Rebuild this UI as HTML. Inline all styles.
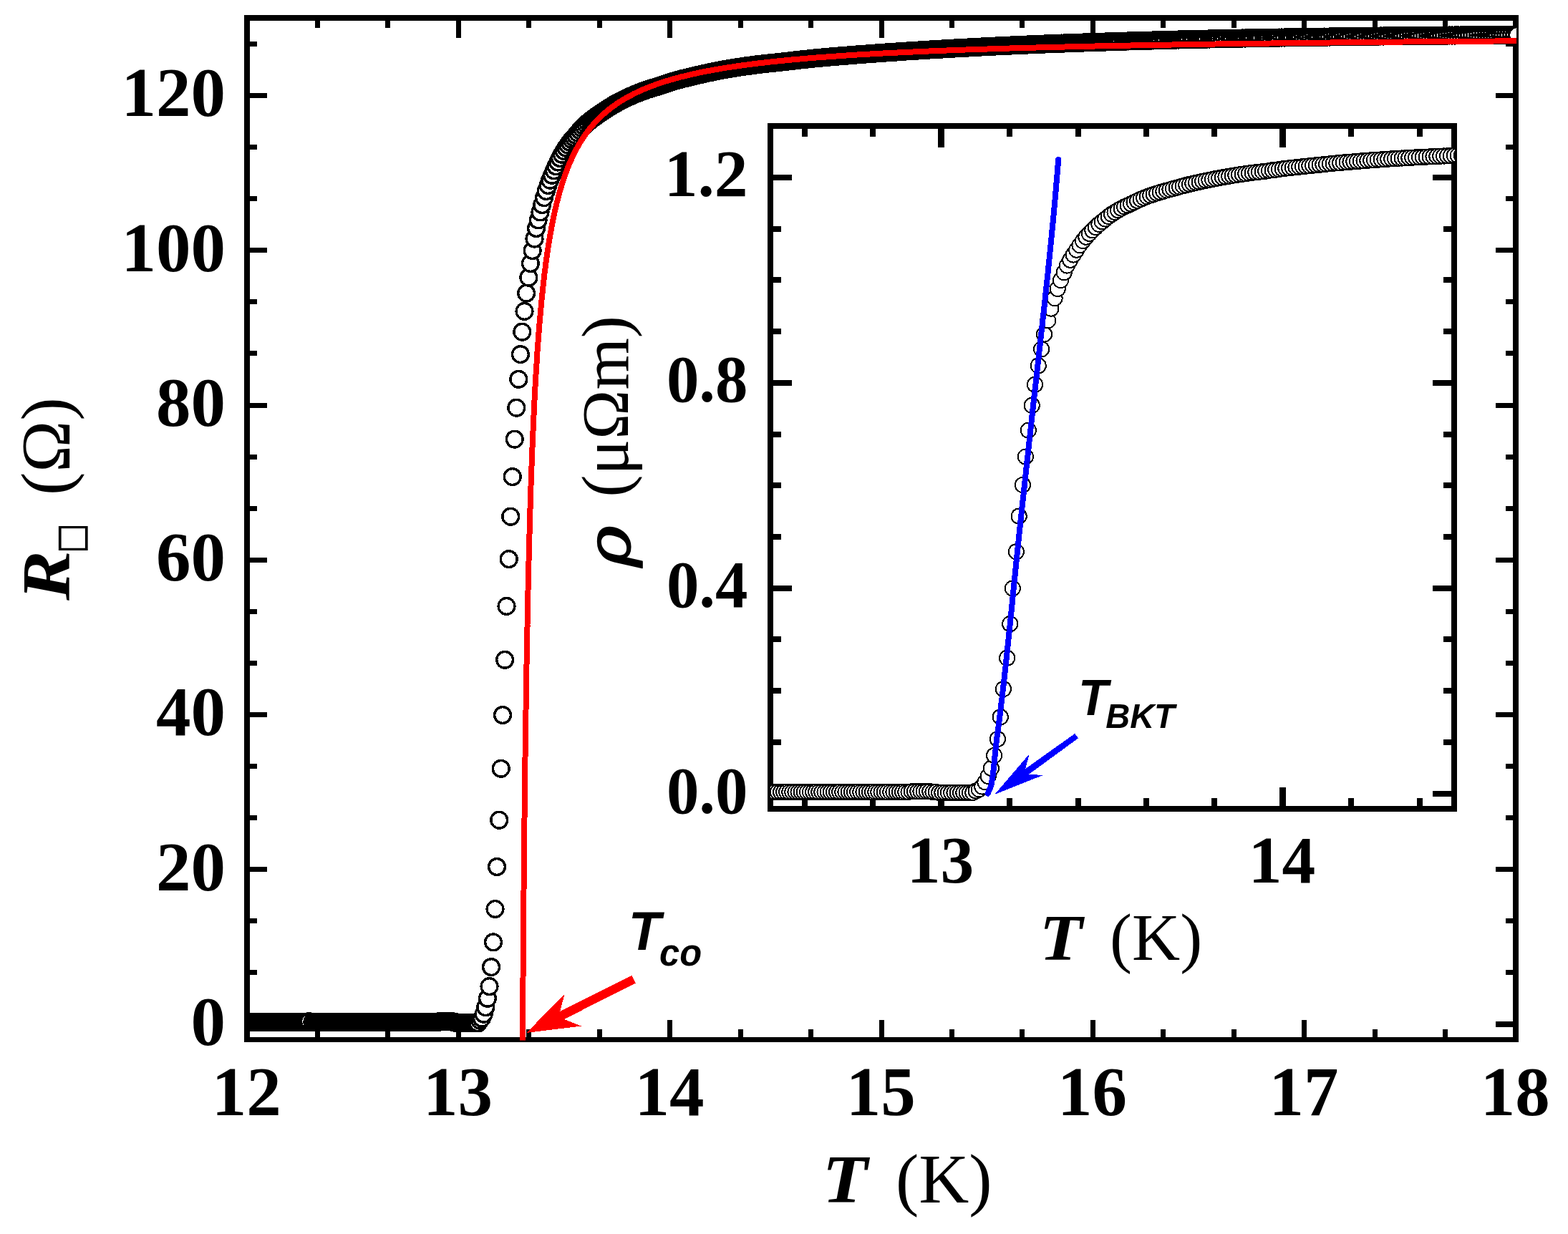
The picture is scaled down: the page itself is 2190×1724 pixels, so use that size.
<!DOCTYPE html>
<html lang="en">
<head>
<meta charset="utf-8">
<title>Sheet resistance versus temperature</title>
<style>
html,body{margin:0;padding:0;background:#fff;}
body{width:2190px;height:1724px;overflow:hidden;}
svg{display:block;}
text{font-family:"Liberation Serif","DejaVu Serif",serif;fill:#000;}
.tl text{font-weight:bold;font-size:97px;}
.tli text{font-weight:bold;font-size:93.5px;}
.ax{font-size:97px;}
.axi{font-size:93px;}
.bi{font-weight:bold;font-style:italic;}
.an{font-family:"Liberation Sans","DejaVu Sans",sans-serif;font-weight:bold;font-style:italic;}
.sqt{font-family:"Liberation Serif","DejaVu Sans",serif;}
.rho{font-family:"DejaVu Serif","Liberation Serif",serif;font-style:italic;}
</style>
</head>
<body>
<svg xmlns="http://www.w3.org/2000/svg" width="2190" height="1724" viewBox="0 0 2190 1724" shape-rendering="crispEdges">
<rect x="0" y="0" width="2190" height="1724" fill="#fff"/>
<g id="main-axes">
<path fill="#000" fill-rule="evenodd" d="M341 21H2121V1456H341Z M349 29V1449H2113V29Z"/>
<rect x="440" y="29" width="7" height="10" fill="#000"/>
<rect x="440" y="1438" width="7" height="11" fill="#000"/>
<rect x="538" y="29" width="7" height="10" fill="#000"/>
<rect x="538" y="1438" width="7" height="11" fill="#000"/>
<rect x="637" y="29" width="7" height="24" fill="#000"/>
<rect x="637" y="1425" width="7" height="24" fill="#000"/>
<rect x="735" y="29" width="7" height="10" fill="#000"/>
<rect x="735" y="1438" width="7" height="11" fill="#000"/>
<rect x="834" y="29" width="7" height="10" fill="#000"/>
<rect x="834" y="1438" width="7" height="11" fill="#000"/>
<rect x="932" y="29" width="7" height="24" fill="#000"/>
<rect x="932" y="1425" width="7" height="24" fill="#000"/>
<rect x="1031" y="29" width="7" height="10" fill="#000"/>
<rect x="1031" y="1438" width="7" height="11" fill="#000"/>
<rect x="1129" y="29" width="7" height="10" fill="#000"/>
<rect x="1129" y="1438" width="7" height="11" fill="#000"/>
<rect x="1228" y="29" width="7" height="24" fill="#000"/>
<rect x="1228" y="1425" width="7" height="24" fill="#000"/>
<rect x="1326" y="29" width="7" height="10" fill="#000"/>
<rect x="1326" y="1438" width="7" height="11" fill="#000"/>
<rect x="1424" y="29" width="7" height="10" fill="#000"/>
<rect x="1424" y="1438" width="7" height="11" fill="#000"/>
<rect x="1523" y="29" width="7" height="24" fill="#000"/>
<rect x="1523" y="1425" width="7" height="24" fill="#000"/>
<rect x="1621" y="29" width="7" height="10" fill="#000"/>
<rect x="1621" y="1438" width="7" height="11" fill="#000"/>
<rect x="1720" y="29" width="7" height="10" fill="#000"/>
<rect x="1720" y="1438" width="7" height="11" fill="#000"/>
<rect x="1818" y="29" width="7" height="24" fill="#000"/>
<rect x="1818" y="1425" width="7" height="24" fill="#000"/>
<rect x="1917" y="29" width="7" height="10" fill="#000"/>
<rect x="1917" y="1438" width="7" height="11" fill="#000"/>
<rect x="2015" y="29" width="7" height="10" fill="#000"/>
<rect x="2015" y="1438" width="7" height="11" fill="#000"/>
<rect x="349" y="1427" width="24" height="8" fill="#000"/>
<rect x="2089" y="1427" width="24" height="8" fill="#000"/>
<rect x="349" y="1355" width="10" height="7" fill="#000"/>
<rect x="2103" y="1355" width="10" height="7" fill="#000"/>
<rect x="349" y="1283" width="10" height="7" fill="#000"/>
<rect x="2103" y="1283" width="10" height="7" fill="#000"/>
<rect x="349" y="1211" width="24" height="7" fill="#000"/>
<rect x="2089" y="1211" width="24" height="7" fill="#000"/>
<rect x="349" y="1139" width="10" height="7" fill="#000"/>
<rect x="2103" y="1139" width="10" height="7" fill="#000"/>
<rect x="349" y="1067" width="10" height="7" fill="#000"/>
<rect x="2103" y="1067" width="10" height="7" fill="#000"/>
<rect x="349" y="995" width="24" height="7" fill="#000"/>
<rect x="2089" y="995" width="24" height="7" fill="#000"/>
<rect x="349" y="923" width="10" height="7" fill="#000"/>
<rect x="2103" y="923" width="10" height="7" fill="#000"/>
<rect x="349" y="851" width="10" height="7" fill="#000"/>
<rect x="2103" y="851" width="10" height="7" fill="#000"/>
<rect x="349" y="779" width="24" height="7" fill="#000"/>
<rect x="2089" y="779" width="24" height="7" fill="#000"/>
<rect x="349" y="707" width="10" height="7" fill="#000"/>
<rect x="2103" y="707" width="10" height="7" fill="#000"/>
<rect x="349" y="635" width="10" height="7" fill="#000"/>
<rect x="2103" y="635" width="10" height="7" fill="#000"/>
<rect x="349" y="563" width="24" height="7" fill="#000"/>
<rect x="2089" y="563" width="24" height="7" fill="#000"/>
<rect x="349" y="490" width="10" height="7" fill="#000"/>
<rect x="2103" y="490" width="10" height="7" fill="#000"/>
<rect x="349" y="418" width="10" height="7" fill="#000"/>
<rect x="2103" y="418" width="10" height="7" fill="#000"/>
<rect x="349" y="346" width="24" height="7" fill="#000"/>
<rect x="2089" y="346" width="24" height="7" fill="#000"/>
<rect x="349" y="274" width="10" height="7" fill="#000"/>
<rect x="2103" y="274" width="10" height="7" fill="#000"/>
<rect x="349" y="202" width="10" height="7" fill="#000"/>
<rect x="2103" y="202" width="10" height="7" fill="#000"/>
<rect x="349" y="130" width="24" height="7" fill="#000"/>
<rect x="2089" y="130" width="24" height="7" fill="#000"/>
<rect x="349" y="58" width="10" height="7" fill="#000"/>
<rect x="2103" y="58" width="10" height="7" fill="#000"/>
</g>
<clipPath id="cm"><rect x="345" y="25" width="1773" height="1428.5"/></clipPath>
<g id="main-data" clip-path="url(#cm)">
<g fill="#fff" stroke="#000" stroke-width="3.4">
<circle cx="326.4" cy="1428.0" r="11.4"/>
<circle cx="328.9" cy="1428.0" r="11.4"/>
<circle cx="331.4" cy="1428.0" r="11.4"/>
<circle cx="333.9" cy="1428.0" r="11.4"/>
<circle cx="336.4" cy="1428.0" r="11.4"/>
<circle cx="338.9" cy="1428.0" r="11.4"/>
<circle cx="341.5" cy="1428.0" r="11.4"/>
<circle cx="344.0" cy="1428.0" r="11.4"/>
<circle cx="346.5" cy="1428.0" r="11.4"/>
<circle cx="349.0" cy="1428.0" r="11.4"/>
<circle cx="351.5" cy="1428.0" r="11.4"/>
<circle cx="354.0" cy="1428.0" r="11.4"/>
<circle cx="356.5" cy="1428.0" r="11.4"/>
<circle cx="359.0" cy="1428.0" r="11.4"/>
<circle cx="361.5" cy="1428.0" r="11.4"/>
<circle cx="364.0" cy="1428.0" r="11.4"/>
<circle cx="366.6" cy="1428.0" r="11.4"/>
<circle cx="369.1" cy="1428.0" r="11.4"/>
<circle cx="371.6" cy="1428.0" r="11.4"/>
<circle cx="374.1" cy="1428.0" r="11.4"/>
<circle cx="376.6" cy="1428.0" r="11.4"/>
<circle cx="379.1" cy="1428.0" r="11.4"/>
<circle cx="381.6" cy="1428.0" r="11.4"/>
<circle cx="384.1" cy="1428.0" r="11.4"/>
<circle cx="386.6" cy="1428.0" r="11.4"/>
<circle cx="389.2" cy="1428.0" r="11.4"/>
<circle cx="391.7" cy="1428.0" r="11.4"/>
<circle cx="394.2" cy="1428.0" r="11.4"/>
<circle cx="396.7" cy="1428.0" r="11.4"/>
<circle cx="399.2" cy="1428.0" r="11.4"/>
<circle cx="401.7" cy="1428.0" r="11.4"/>
<circle cx="404.2" cy="1428.0" r="11.4"/>
<circle cx="406.7" cy="1428.0" r="11.4"/>
<circle cx="409.2" cy="1428.0" r="11.4"/>
<circle cx="411.7" cy="1428.0" r="11.4"/>
<circle cx="414.3" cy="1428.0" r="11.4"/>
<circle cx="416.8" cy="1428.0" r="11.4"/>
<circle cx="419.3" cy="1428.0" r="11.4"/>
<circle cx="421.8" cy="1428.0" r="11.4"/>
<circle cx="424.3" cy="1428.0" r="11.4"/>
<circle cx="426.8" cy="1428.0" r="11.4"/>
<circle cx="429.3" cy="1428.0" r="11.4"/>
<circle cx="431.8" cy="1427.1" r="11.4"/>
<circle cx="436.4" cy="1428.0" r="11.4"/>
<circle cx="438.9" cy="1428.0" r="11.4"/>
<circle cx="441.4" cy="1428.0" r="11.4"/>
<circle cx="443.9" cy="1428.0" r="11.4"/>
<circle cx="446.4" cy="1428.0" r="11.4"/>
<circle cx="448.9" cy="1428.0" r="11.4"/>
<circle cx="451.4" cy="1428.0" r="11.4"/>
<circle cx="453.9" cy="1428.0" r="11.4"/>
<circle cx="456.4" cy="1428.0" r="11.4"/>
<circle cx="458.9" cy="1428.0" r="11.4"/>
<circle cx="461.4" cy="1428.0" r="11.4"/>
<circle cx="464.0" cy="1428.0" r="11.4"/>
<circle cx="466.5" cy="1428.0" r="11.4"/>
<circle cx="469.0" cy="1428.0" r="11.4"/>
<circle cx="471.5" cy="1428.0" r="11.4"/>
<circle cx="474.0" cy="1428.0" r="11.4"/>
<circle cx="476.5" cy="1428.0" r="11.4"/>
<circle cx="479.0" cy="1428.0" r="11.4"/>
<circle cx="481.5" cy="1428.0" r="11.4"/>
<circle cx="484.0" cy="1428.0" r="11.4"/>
<circle cx="486.5" cy="1428.0" r="11.4"/>
<circle cx="489.1" cy="1428.0" r="11.4"/>
<circle cx="491.6" cy="1428.0" r="11.4"/>
<circle cx="494.1" cy="1428.0" r="11.4"/>
<circle cx="496.6" cy="1428.0" r="11.4"/>
<circle cx="499.1" cy="1428.0" r="11.4"/>
<circle cx="501.6" cy="1428.0" r="11.4"/>
<circle cx="504.2" cy="1428.0" r="11.4"/>
<circle cx="506.7" cy="1428.0" r="11.4"/>
<circle cx="509.2" cy="1428.0" r="11.4"/>
<circle cx="511.7" cy="1428.0" r="11.4"/>
<circle cx="514.3" cy="1428.0" r="11.4"/>
<circle cx="516.8" cy="1428.0" r="11.4"/>
<circle cx="519.3" cy="1428.0" r="11.4"/>
<circle cx="521.9" cy="1428.0" r="11.4"/>
<circle cx="524.4" cy="1428.0" r="11.4"/>
<circle cx="526.9" cy="1428.0" r="11.4"/>
<circle cx="529.5" cy="1428.0" r="11.4"/>
<circle cx="532.0" cy="1428.0" r="11.4"/>
<circle cx="534.6" cy="1428.0" r="11.4"/>
<circle cx="537.1" cy="1428.0" r="11.4"/>
<circle cx="539.7" cy="1428.0" r="11.4"/>
<circle cx="542.2" cy="1428.0" r="11.4"/>
<circle cx="544.8" cy="1428.0" r="11.4"/>
<circle cx="547.4" cy="1428.0" r="11.4"/>
<circle cx="549.9" cy="1428.0" r="11.4"/>
<circle cx="552.5" cy="1428.0" r="11.4"/>
<circle cx="555.0" cy="1428.0" r="11.4"/>
<circle cx="557.6" cy="1428.0" r="11.4"/>
<circle cx="560.2" cy="1428.0" r="11.4"/>
<circle cx="562.8" cy="1428.0" r="11.4"/>
<circle cx="565.3" cy="1428.0" r="11.4"/>
<circle cx="567.9" cy="1428.0" r="11.4"/>
<circle cx="570.5" cy="1428.0" r="11.4"/>
<circle cx="573.1" cy="1428.0" r="11.4"/>
<circle cx="575.7" cy="1428.0" r="11.4"/>
<circle cx="578.2" cy="1428.0" r="11.4"/>
<circle cx="580.8" cy="1428.0" r="11.4"/>
<circle cx="583.4" cy="1428.0" r="11.4"/>
<circle cx="586.0" cy="1428.0" r="11.4"/>
<circle cx="588.6" cy="1428.0" r="11.4"/>
<circle cx="591.2" cy="1428.0" r="11.4"/>
<circle cx="593.8" cy="1428.0" r="11.4"/>
<circle cx="596.4" cy="1428.0" r="11.4"/>
<circle cx="599.0" cy="1428.0" r="11.4"/>
<circle cx="601.6" cy="1428.0" r="11.4"/>
<circle cx="604.2" cy="1428.0" r="11.4"/>
<circle cx="606.9" cy="1428.0" r="11.4"/>
<circle cx="609.5" cy="1428.0" r="11.4"/>
<circle cx="612.1" cy="1428.0" r="11.4"/>
<circle cx="614.7" cy="1426.8" r="11.4"/>
<circle cx="617.3" cy="1426.8" r="11.4"/>
<circle cx="620.0" cy="1426.8" r="11.4"/>
<circle cx="622.6" cy="1426.8" r="11.4"/>
<circle cx="625.2" cy="1426.8" r="11.4"/>
<circle cx="627.9" cy="1426.8" r="11.4"/>
<circle cx="630.5" cy="1426.8" r="11.4"/>
<circle cx="633.1" cy="1428.0" r="11.4"/>
<circle cx="635.8" cy="1428.0" r="11.4"/>
<circle cx="638.4" cy="1429.4" r="11.4"/>
<circle cx="641.0" cy="1429.4" r="11.4"/>
<circle cx="643.7" cy="1429.4" r="11.4"/>
<circle cx="646.3" cy="1429.4" r="11.4"/>
<circle cx="649.0" cy="1429.4" r="11.4"/>
<circle cx="651.6" cy="1429.4" r="11.4"/>
<circle cx="654.3" cy="1429.4" r="11.4"/>
<circle cx="657.0" cy="1429.4" r="11.4"/>
<circle cx="659.6" cy="1429.4" r="11.4"/>
<circle cx="662.3" cy="1429.4" r="11.4"/>
<circle cx="664.9" cy="1429.4" r="11.4"/>
<circle cx="667.6" cy="1429.4" r="11.4"/>
<circle cx="670.3" cy="1425.7" r="11.4"/>
<circle cx="672.9" cy="1422.6" r="11.4"/>
<circle cx="675.6" cy="1416.7" r="11.4"/>
<circle cx="678.2" cy="1407.2" r="11.4"/>
<circle cx="680.9" cy="1394.8" r="11.4"/>
<circle cx="683.5" cy="1378.1" r="11.4"/>
<circle cx="686.1" cy="1351.1" r="11.4"/>
<circle cx="689.0" cy="1316.4" r="11.4"/>
<circle cx="691.5" cy="1270.0" r="11.4"/>
<circle cx="694.0" cy="1211.0" r="11.4"/>
<circle cx="697.2" cy="1145.7" r="11.4"/>
<circle cx="699.7" cy="1073.8" r="11.4"/>
<circle cx="702.0" cy="999.0" r="11.4"/>
<circle cx="705.1" cy="921.8" r="11.4"/>
<circle cx="707.5" cy="846.9" r="11.4"/>
<circle cx="710.7" cy="781.1" r="11.4"/>
<circle cx="713.2" cy="721.7" r="11.4"/>
<circle cx="715.7" cy="666.1" r="11.4"/>
<circle cx="718.7" cy="613.6" r="11.4"/>
<circle cx="721.3" cy="569.7" r="11.4"/>
<circle cx="724.3" cy="529.8" r="11.4"/>
<circle cx="726.9" cy="495.1" r="11.4"/>
<circle cx="729.3" cy="463.7" r="11.4"/>
<circle cx="732.5" cy="434.9" r="11.4"/>
<circle cx="735.1" cy="409.6" r="11.4"/>
<circle cx="738.4" cy="387.7" r="11.4"/>
<circle cx="740.9" cy="368.0" r="11.4"/>
<circle cx="743.6" cy="350.1" r="11.4"/>
<circle cx="746.5" cy="333.6" r="11.4"/>
<circle cx="749.0" cy="319.0" r="11.4"/>
<circle cx="751.7" cy="307.4" r="11.4"/>
<circle cx="754.5" cy="296.4" r="11.4"/>
<circle cx="757.2" cy="286.1" r="11.4"/>
<circle cx="760.0" cy="276.2" r="11.4"/>
<circle cx="762.7" cy="267.0" r="11.4"/>
<circle cx="765.5" cy="259.0" r="11.4"/>
<circle cx="768.2" cy="251.7" r="11.4"/>
<circle cx="771.0" cy="244.8" r="11.4"/>
<circle cx="773.8" cy="238.3" r="11.4"/>
<circle cx="776.5" cy="232.2" r="11.4"/>
<circle cx="779.3" cy="226.5" r="11.4"/>
<circle cx="782.1" cy="221.0" r="11.4"/>
<circle cx="784.8" cy="215.8" r="11.4"/>
<circle cx="787.6" cy="210.9" r="11.4"/>
<circle cx="790.4" cy="206.6" r="11.4"/>
<circle cx="793.1" cy="202.6" r="11.4"/>
<circle cx="795.9" cy="198.7" r="11.4"/>
<circle cx="798.7" cy="195.2" r="11.4"/>
<circle cx="801.5" cy="192.2" r="11.4"/>
<circle cx="804.3" cy="189.1" r="11.4"/>
<circle cx="807.1" cy="185.8" r="11.4"/>
<circle cx="809.9" cy="182.4" r="11.4"/>
<circle cx="812.7" cy="179.2" r="11.4"/>
<circle cx="815.5" cy="176.3" r="11.4"/>
<circle cx="818.3" cy="173.7" r="11.4"/>
<circle cx="821.1" cy="171.3" r="11.4"/>
<circle cx="823.9" cy="169.0" r="11.4"/>
<circle cx="826.7" cy="166.8" r="11.4"/>
<circle cx="829.5" cy="164.7" r="11.4"/>
<circle cx="832.3" cy="162.6" r="11.4"/>
<circle cx="835.1" cy="160.7" r="11.4"/>
<circle cx="837.9" cy="158.7" r="11.4"/>
<circle cx="840.7" cy="156.8" r="11.4"/>
<circle cx="843.6" cy="155.0" r="11.4"/>
<circle cx="846.4" cy="153.1" r="11.4"/>
<circle cx="849.2" cy="151.3" r="11.4"/>
<circle cx="852.0" cy="149.5" r="11.4"/>
<circle cx="854.9" cy="147.8" r="11.4"/>
<circle cx="857.7" cy="146.0" r="11.4"/>
<circle cx="860.6" cy="144.4" r="11.4"/>
<circle cx="863.4" cy="142.9" r="11.4"/>
<circle cx="866.2" cy="141.4" r="11.4"/>
<circle cx="869.1" cy="139.9" r="11.4"/>
<circle cx="871.9" cy="138.5" r="11.4"/>
<circle cx="874.8" cy="137.2" r="11.4"/>
<circle cx="877.6" cy="135.8" r="11.4"/>
<circle cx="880.5" cy="134.5" r="11.4"/>
<circle cx="883.3" cy="133.3" r="11.4"/>
<circle cx="886.2" cy="132.0" r="11.4"/>
<circle cx="889.1" cy="130.8" r="11.4"/>
<circle cx="891.9" cy="129.7" r="11.4"/>
<circle cx="894.8" cy="128.6" r="11.4"/>
<circle cx="897.7" cy="127.5" r="11.4"/>
<circle cx="900.5" cy="126.4" r="11.4"/>
<circle cx="903.4" cy="125.4" r="11.4"/>
<circle cx="906.3" cy="124.5" r="11.4"/>
<circle cx="909.2" cy="123.6" r="11.4"/>
<circle cx="912.1" cy="122.7" r="11.4"/>
<circle cx="915.0" cy="121.9" r="11.4"/>
<circle cx="917.8" cy="121.0" r="11.4"/>
<circle cx="920.7" cy="120.1" r="11.4"/>
<circle cx="923.6" cy="119.1" r="11.4"/>
<circle cx="926.5" cy="118.1" r="11.4"/>
<circle cx="929.4" cy="117.2" r="11.4"/>
<circle cx="932.3" cy="116.2" r="11.4"/>
<circle cx="935.2" cy="115.2" r="11.4"/>
<circle cx="938.1" cy="114.3" r="11.4"/>
<circle cx="941.1" cy="113.4" r="11.4"/>
<circle cx="944.0" cy="112.6" r="11.4"/>
<circle cx="946.9" cy="111.8" r="11.4"/>
<circle cx="949.8" cy="111.0" r="11.4"/>
<circle cx="952.7" cy="110.2" r="11.4"/>
<circle cx="955.6" cy="109.5" r="11.4"/>
<circle cx="958.6" cy="108.8" r="11.4"/>
<circle cx="961.5" cy="108.1" r="11.4"/>
<circle cx="964.4" cy="107.4" r="11.4"/>
<circle cx="967.4" cy="106.7" r="11.4"/>
<circle cx="970.3" cy="106.0" r="11.4"/>
<circle cx="973.2" cy="105.3" r="11.4"/>
<circle cx="976.2" cy="104.6" r="11.4"/>
<circle cx="979.1" cy="103.9" r="11.4"/>
<circle cx="982.1" cy="103.3" r="11.4"/>
<circle cx="985.0" cy="102.6" r="11.4"/>
<circle cx="988.0" cy="101.9" r="11.4"/>
<circle cx="990.9" cy="101.3" r="11.4"/>
<circle cx="993.9" cy="100.7" r="11.4"/>
<circle cx="996.8" cy="100.0" r="11.4"/>
<circle cx="999.8" cy="99.4" r="11.4"/>
<circle cx="1002.8" cy="98.8" r="11.4"/>
<circle cx="1005.7" cy="98.3" r="11.4"/>
<circle cx="1008.7" cy="97.7" r="11.4"/>
<circle cx="1011.7" cy="97.2" r="11.4"/>
<circle cx="1014.7" cy="96.6" r="11.4"/>
<circle cx="1017.6" cy="96.1" r="11.4"/>
<circle cx="1020.6" cy="95.6" r="11.4"/>
<circle cx="1023.6" cy="95.1" r="11.4"/>
<circle cx="1026.6" cy="94.6" r="11.4"/>
<circle cx="1029.6" cy="94.2" r="11.4"/>
<circle cx="1032.6" cy="93.7" r="11.4"/>
<circle cx="1035.6" cy="93.3" r="11.4"/>
<circle cx="1038.6" cy="92.8" r="11.4"/>
<circle cx="1041.6" cy="92.4" r="11.4"/>
<circle cx="1044.6" cy="92.0" r="11.4"/>
<circle cx="1047.6" cy="91.6" r="11.4"/>
<circle cx="1050.6" cy="91.2" r="11.4"/>
<circle cx="1053.6" cy="90.8" r="11.4"/>
<circle cx="1056.6" cy="90.4" r="11.4"/>
<circle cx="1059.6" cy="90.0" r="11.4"/>
<circle cx="1062.7" cy="89.6" r="11.4"/>
<circle cx="1065.7" cy="89.3" r="11.4"/>
<circle cx="1068.7" cy="89.0" r="11.4"/>
<circle cx="1071.7" cy="88.6" r="11.4"/>
<circle cx="1074.8" cy="88.3" r="11.4"/>
<circle cx="1077.8" cy="88.1" r="11.4"/>
<circle cx="1080.8" cy="87.8" r="11.4"/>
<circle cx="1083.9" cy="87.4" r="11.4"/>
<circle cx="1086.9" cy="87.1" r="11.4"/>
<circle cx="1090.0" cy="86.8" r="11.4"/>
<circle cx="1093.0" cy="86.4" r="11.4"/>
<circle cx="1096.0" cy="86.1" r="11.4"/>
<circle cx="1099.1" cy="85.7" r="11.4"/>
<circle cx="1102.2" cy="85.4" r="11.4"/>
<circle cx="1105.2" cy="85.0" r="11.4"/>
<circle cx="1108.3" cy="84.7" r="11.4"/>
<circle cx="1111.3" cy="84.3" r="11.4"/>
<circle cx="1114.4" cy="83.9" r="11.4"/>
<circle cx="1117.5" cy="83.6" r="11.4"/>
<circle cx="1120.5" cy="83.2" r="11.4"/>
<circle cx="1123.6" cy="82.9" r="11.4"/>
<circle cx="1126.7" cy="82.6" r="11.4"/>
<circle cx="1129.8" cy="82.2" r="11.4"/>
<circle cx="1132.9" cy="81.9" r="11.4"/>
<circle cx="1135.9" cy="81.6" r="11.4"/>
<circle cx="1139.0" cy="81.3" r="11.4"/>
<circle cx="1142.1" cy="81.0" r="11.4"/>
<circle cx="1145.2" cy="80.8" r="11.4"/>
<circle cx="1148.3" cy="80.5" r="11.4"/>
<circle cx="1151.4" cy="80.2" r="11.4"/>
<circle cx="1154.5" cy="79.9" r="11.4"/>
<circle cx="1157.6" cy="79.7" r="11.4"/>
<circle cx="1160.7" cy="79.4" r="11.4"/>
<circle cx="1163.8" cy="79.1" r="11.4"/>
<circle cx="1166.9" cy="78.9" r="11.4"/>
<circle cx="1170.1" cy="78.6" r="11.4"/>
<circle cx="1173.2" cy="78.3" r="11.4"/>
<circle cx="1176.3" cy="78.1" r="11.4"/>
<circle cx="1179.4" cy="77.8" r="11.4"/>
<circle cx="1182.6" cy="77.6" r="11.4"/>
<circle cx="1185.7" cy="77.3" r="11.4"/>
<circle cx="1188.8" cy="77.1" r="11.4"/>
<circle cx="1192.0" cy="76.8" r="11.4"/>
<circle cx="1195.1" cy="76.6" r="11.4"/>
<circle cx="1198.2" cy="76.3" r="11.4"/>
<circle cx="1201.4" cy="76.1" r="11.4"/>
<circle cx="1204.5" cy="75.9" r="11.4"/>
<circle cx="1207.7" cy="75.6" r="11.4"/>
<circle cx="1210.8" cy="75.4" r="11.4"/>
<circle cx="1214.0" cy="75.1" r="11.4"/>
<circle cx="1217.1" cy="74.9" r="11.4"/>
<circle cx="1220.3" cy="74.7" r="11.4"/>
<circle cx="1223.5" cy="74.5" r="11.4"/>
<circle cx="1226.6" cy="74.2" r="11.4"/>
<circle cx="1229.8" cy="74.0" r="11.4"/>
<circle cx="1233.0" cy="73.8" r="11.4"/>
<circle cx="1236.2" cy="73.6" r="11.4"/>
<circle cx="1239.3" cy="73.3" r="11.4"/>
<circle cx="1242.5" cy="73.1" r="11.4"/>
<circle cx="1245.7" cy="72.9" r="11.4"/>
<circle cx="1248.9" cy="72.7" r="11.4"/>
<circle cx="1252.1" cy="72.5" r="11.4"/>
<circle cx="1255.3" cy="72.3" r="11.4"/>
<circle cx="1258.5" cy="72.1" r="11.4"/>
<circle cx="1261.7" cy="71.9" r="11.4"/>
<circle cx="1264.9" cy="71.6" r="11.4"/>
<circle cx="1268.1" cy="71.4" r="11.4"/>
<circle cx="1271.3" cy="71.2" r="11.4"/>
<circle cx="1274.5" cy="71.0" r="11.4"/>
<circle cx="1277.7" cy="70.8" r="11.4"/>
<circle cx="1280.9" cy="70.6" r="11.4"/>
<circle cx="1284.1" cy="70.4" r="11.4"/>
<circle cx="1287.4" cy="70.2" r="11.4"/>
<circle cx="1290.6" cy="70.0" r="11.4"/>
<circle cx="1293.8" cy="69.8" r="11.4"/>
<circle cx="1297.0" cy="69.6" r="11.4"/>
<circle cx="1300.3" cy="69.4" r="11.4"/>
<circle cx="1303.5" cy="69.2" r="11.4"/>
<circle cx="1306.7" cy="69.0" r="11.4"/>
<circle cx="1310.0" cy="68.8" r="11.4"/>
<circle cx="1313.2" cy="68.7" r="11.4"/>
<circle cx="1316.5" cy="68.5" r="11.4"/>
<circle cx="1319.7" cy="68.3" r="11.4"/>
<circle cx="1323.0" cy="68.1" r="11.4"/>
<circle cx="1326.2" cy="67.9" r="11.4"/>
<circle cx="1329.5" cy="67.7" r="11.4"/>
<circle cx="1332.8" cy="67.5" r="11.4"/>
<circle cx="1336.0" cy="67.4" r="11.4"/>
<circle cx="1339.3" cy="67.2" r="11.4"/>
<circle cx="1342.6" cy="67.0" r="11.4"/>
<circle cx="1345.8" cy="66.8" r="11.4"/>
<circle cx="1349.1" cy="66.6" r="11.4"/>
<circle cx="1352.4" cy="66.5" r="11.4"/>
<circle cx="1355.7" cy="66.3" r="11.4"/>
<circle cx="1359.0" cy="66.1" r="11.4"/>
<circle cx="1362.3" cy="65.9" r="11.4"/>
<circle cx="1365.5" cy="65.8" r="11.4"/>
<circle cx="1368.8" cy="65.6" r="11.4"/>
<circle cx="1372.1" cy="65.4" r="11.4"/>
<circle cx="1375.4" cy="65.3" r="11.4"/>
<circle cx="1378.7" cy="65.1" r="11.4"/>
<circle cx="1382.0" cy="64.9" r="11.4"/>
<circle cx="1385.4" cy="64.8" r="11.4"/>
<circle cx="1388.7" cy="64.6" r="11.4"/>
<circle cx="1392.0" cy="64.4" r="11.4"/>
<circle cx="1395.3" cy="64.3" r="11.4"/>
<circle cx="1398.6" cy="64.1" r="11.4"/>
<circle cx="1401.9" cy="64.0" r="11.4"/>
<circle cx="1405.3" cy="63.8" r="11.4"/>
<circle cx="1408.6" cy="63.7" r="11.4"/>
<circle cx="1411.9" cy="63.5" r="11.4"/>
<circle cx="1415.3" cy="63.4" r="11.4"/>
<circle cx="1418.6" cy="63.2" r="11.4"/>
<circle cx="1422.0" cy="63.1" r="11.4"/>
<circle cx="1425.3" cy="62.9" r="11.4"/>
<circle cx="1428.7" cy="62.8" r="11.4"/>
<circle cx="1432.0" cy="62.6" r="11.4"/>
<circle cx="1435.4" cy="62.5" r="11.4"/>
<circle cx="1438.7" cy="62.4" r="11.4"/>
<circle cx="1442.1" cy="62.2" r="11.4"/>
<circle cx="1445.4" cy="62.1" r="11.4"/>
<circle cx="1448.8" cy="61.9" r="11.4"/>
<circle cx="1452.2" cy="61.8" r="11.4"/>
<circle cx="1455.6" cy="61.7" r="11.4"/>
<circle cx="1458.9" cy="61.5" r="11.4"/>
<circle cx="1462.3" cy="61.4" r="11.4"/>
<circle cx="1465.7" cy="61.3" r="11.4"/>
<circle cx="1469.1" cy="61.1" r="11.4"/>
<circle cx="1472.5" cy="61.0" r="11.4"/>
<circle cx="1475.9" cy="60.9" r="11.4"/>
<circle cx="1479.2" cy="60.7" r="11.4"/>
<circle cx="1482.6" cy="60.6" r="11.4"/>
<circle cx="1486.0" cy="60.5" r="11.4"/>
<circle cx="1489.4" cy="60.4" r="11.4"/>
<circle cx="1492.9" cy="60.2" r="11.4"/>
<circle cx="1496.3" cy="60.1" r="11.4"/>
<circle cx="1499.7" cy="60.0" r="11.4"/>
<circle cx="1503.1" cy="59.9" r="11.4"/>
<circle cx="1506.5" cy="59.7" r="11.4"/>
<circle cx="1509.9" cy="59.6" r="11.4"/>
<circle cx="1513.4" cy="59.5" r="11.4"/>
<circle cx="1516.8" cy="59.4" r="11.4"/>
<circle cx="1520.2" cy="59.3" r="11.4"/>
<circle cx="1523.6" cy="59.2" r="11.4"/>
<circle cx="1527.1" cy="59.0" r="11.4"/>
<circle cx="1530.5" cy="58.9" r="11.4"/>
<circle cx="1534.0" cy="58.8" r="11.4"/>
<circle cx="1537.4" cy="58.7" r="11.4"/>
<circle cx="1540.9" cy="58.6" r="11.4"/>
<circle cx="1544.3" cy="58.5" r="11.4"/>
<circle cx="1547.8" cy="58.4" r="11.4"/>
<circle cx="1551.2" cy="58.3" r="11.4"/>
<circle cx="1554.7" cy="58.1" r="11.4"/>
<circle cx="1558.2" cy="58.0" r="11.4"/>
<circle cx="1561.6" cy="57.9" r="11.4"/>
<circle cx="1565.1" cy="57.8" r="11.4"/>
<circle cx="1568.6" cy="57.7" r="11.4"/>
<circle cx="1572.0" cy="57.6" r="11.4"/>
<circle cx="1575.5" cy="57.5" r="11.4"/>
<circle cx="1579.0" cy="57.4" r="11.4"/>
<circle cx="1582.5" cy="57.3" r="11.4"/>
<circle cx="1586.0" cy="57.2" r="11.4"/>
<circle cx="1589.5" cy="57.1" r="11.4"/>
<circle cx="1593.0" cy="57.0" r="11.4"/>
<circle cx="1596.5" cy="56.9" r="11.4"/>
<circle cx="1600.0" cy="56.8" r="11.4"/>
<circle cx="1603.5" cy="56.7" r="11.4"/>
<circle cx="1607.0" cy="56.6" r="11.4"/>
<circle cx="1610.5" cy="56.5" r="11.4"/>
<circle cx="1614.0" cy="56.4" r="11.4"/>
<circle cx="1617.5" cy="56.3" r="11.4"/>
<circle cx="1621.1" cy="56.2" r="11.4"/>
<circle cx="1624.6" cy="56.1" r="11.4"/>
<circle cx="1628.1" cy="56.0" r="11.4"/>
<circle cx="1631.6" cy="55.9" r="11.4"/>
<circle cx="1635.2" cy="55.8" r="11.4"/>
<circle cx="1638.7" cy="55.7" r="11.4"/>
<circle cx="1642.3" cy="55.6" r="11.4"/>
<circle cx="1645.8" cy="55.5" r="11.4"/>
<circle cx="1649.4" cy="55.4" r="11.4"/>
<circle cx="1652.9" cy="55.4" r="11.4"/>
<circle cx="1656.5" cy="55.3" r="11.4"/>
<circle cx="1660.0" cy="55.2" r="11.4"/>
<circle cx="1663.6" cy="55.1" r="11.4"/>
<circle cx="1667.1" cy="55.0" r="11.4"/>
<circle cx="1670.7" cy="54.9" r="11.4"/>
<circle cx="1674.3" cy="54.8" r="11.4"/>
<circle cx="1677.8" cy="54.8" r="11.4"/>
<circle cx="1681.4" cy="54.7" r="11.4"/>
<circle cx="1685.0" cy="54.6" r="11.4"/>
<circle cx="1688.6" cy="54.5" r="11.4"/>
<circle cx="1692.2" cy="54.4" r="11.4"/>
<circle cx="1695.8" cy="54.4" r="11.4"/>
<circle cx="1699.3" cy="54.3" r="11.4"/>
<circle cx="1702.9" cy="54.2" r="11.4"/>
<circle cx="1706.5" cy="54.1" r="11.4"/>
<circle cx="1710.1" cy="54.0" r="11.4"/>
<circle cx="1713.7" cy="54.0" r="11.4"/>
<circle cx="1717.4" cy="53.9" r="11.4"/>
<circle cx="1721.0" cy="53.8" r="11.4"/>
<circle cx="1724.6" cy="53.8" r="11.4"/>
<circle cx="1728.2" cy="53.7" r="11.4"/>
<circle cx="1731.8" cy="53.6" r="11.4"/>
<circle cx="1735.4" cy="53.5" r="11.4"/>
<circle cx="1739.1" cy="53.5" r="11.4"/>
<circle cx="1742.7" cy="53.4" r="11.4"/>
<circle cx="1746.3" cy="53.3" r="11.4"/>
<circle cx="1750.0" cy="53.3" r="11.4"/>
<circle cx="1753.6" cy="53.2" r="11.4"/>
<circle cx="1757.3" cy="53.1" r="11.4"/>
<circle cx="1760.9" cy="53.1" r="11.4"/>
<circle cx="1764.6" cy="53.0" r="11.4"/>
<circle cx="1768.2" cy="52.9" r="11.4"/>
<circle cx="1771.9" cy="52.9" r="11.4"/>
<circle cx="1775.5" cy="52.8" r="11.4"/>
<circle cx="1779.2" cy="52.7" r="11.4"/>
<circle cx="1782.9" cy="52.7" r="11.4"/>
<circle cx="1786.5" cy="52.6" r="11.4"/>
<circle cx="1790.2" cy="52.5" r="11.4"/>
<circle cx="1793.9" cy="52.5" r="11.4"/>
<circle cx="1797.6" cy="52.4" r="11.4"/>
<circle cx="1801.2" cy="52.4" r="11.4"/>
<circle cx="1804.9" cy="52.3" r="11.4"/>
<circle cx="1808.6" cy="52.2" r="11.4"/>
<circle cx="1812.3" cy="52.2" r="11.4"/>
<circle cx="1816.0" cy="52.1" r="11.4"/>
<circle cx="1819.7" cy="52.1" r="11.4"/>
<circle cx="1823.4" cy="52.0" r="11.4"/>
<circle cx="1827.1" cy="51.9" r="11.4"/>
<circle cx="1830.8" cy="51.9" r="11.4"/>
<circle cx="1834.5" cy="51.8" r="11.4"/>
<circle cx="1838.3" cy="51.8" r="11.4"/>
<circle cx="1842.0" cy="51.7" r="11.4"/>
<circle cx="1845.7" cy="51.7" r="11.4"/>
<circle cx="1849.4" cy="51.6" r="11.4"/>
<circle cx="1853.2" cy="51.6" r="11.4"/>
<circle cx="1856.9" cy="51.5" r="11.4"/>
<circle cx="1860.6" cy="51.4" r="11.4"/>
<circle cx="1864.4" cy="51.4" r="11.4"/>
<circle cx="1868.1" cy="51.3" r="11.4"/>
<circle cx="1871.9" cy="51.3" r="11.4"/>
<circle cx="1875.6" cy="51.2" r="11.4"/>
<circle cx="1879.4" cy="51.2" r="11.4"/>
<circle cx="1883.1" cy="51.1" r="11.4"/>
<circle cx="1886.9" cy="51.1" r="11.4"/>
<circle cx="1890.7" cy="51.0" r="11.4"/>
<circle cx="1894.4" cy="51.0" r="11.4"/>
<circle cx="1898.2" cy="50.9" r="11.4"/>
<circle cx="1902.0" cy="50.9" r="11.4"/>
<circle cx="1905.7" cy="50.8" r="11.4"/>
<circle cx="1909.5" cy="50.8" r="11.4"/>
<circle cx="1913.3" cy="50.7" r="11.4"/>
<circle cx="1917.1" cy="50.7" r="11.4"/>
<circle cx="1920.9" cy="50.6" r="11.4"/>
<circle cx="1924.7" cy="50.6" r="11.4"/>
<circle cx="1928.5" cy="50.5" r="11.4"/>
<circle cx="1932.3" cy="50.5" r="11.4"/>
<circle cx="1936.1" cy="50.4" r="11.4"/>
<circle cx="1939.9" cy="50.4" r="11.4"/>
<circle cx="1943.7" cy="50.3" r="11.4"/>
<circle cx="1947.5" cy="50.3" r="11.4"/>
<circle cx="1951.3" cy="50.3" r="11.4"/>
<circle cx="1955.2" cy="50.2" r="11.4"/>
<circle cx="1959.0" cy="50.2" r="11.4"/>
<circle cx="1962.8" cy="50.1" r="11.4"/>
<circle cx="1966.6" cy="50.1" r="11.4"/>
<circle cx="1970.5" cy="50.0" r="11.4"/>
<circle cx="1974.3" cy="50.0" r="11.4"/>
<circle cx="1978.2" cy="50.0" r="11.4"/>
<circle cx="1982.0" cy="49.9" r="11.4"/>
<circle cx="1985.9" cy="49.9" r="11.4"/>
<circle cx="1989.7" cy="49.8" r="11.4"/>
<circle cx="1993.6" cy="49.8" r="11.4"/>
<circle cx="1997.4" cy="49.8" r="11.4"/>
<circle cx="2001.3" cy="49.7" r="11.4"/>
<circle cx="2005.2" cy="49.7" r="11.4"/>
<circle cx="2009.0" cy="49.7" r="11.4"/>
<circle cx="2012.9" cy="49.6" r="11.4"/>
<circle cx="2016.8" cy="49.6" r="11.4"/>
<circle cx="2020.7" cy="49.6" r="11.4"/>
<circle cx="2024.5" cy="49.5" r="11.4"/>
<circle cx="2028.4" cy="49.5" r="11.4"/>
<circle cx="2032.3" cy="49.5" r="11.4"/>
<circle cx="2036.2" cy="49.4" r="11.4"/>
<circle cx="2040.1" cy="49.4" r="11.4"/>
<circle cx="2044.0" cy="49.4" r="11.4"/>
<circle cx="2047.9" cy="49.3" r="11.4"/>
<circle cx="2051.8" cy="49.3" r="11.4"/>
<circle cx="2055.8" cy="49.3" r="11.4"/>
<circle cx="2059.7" cy="49.2" r="11.4"/>
<circle cx="2063.6" cy="49.2" r="11.4"/>
<circle cx="2067.5" cy="49.2" r="11.4"/>
<circle cx="2071.4" cy="49.1" r="11.4"/>
<circle cx="2075.4" cy="49.1" r="11.4"/>
<circle cx="2079.3" cy="49.1" r="11.4"/>
<circle cx="2083.2" cy="49.0" r="11.4"/>
<circle cx="2087.2" cy="49.0" r="11.4"/>
<circle cx="2091.1" cy="49.0" r="11.4"/>
<circle cx="2095.1" cy="48.9" r="11.4"/>
<circle cx="2099.0" cy="48.9" r="11.4"/>
<circle cx="2103.0" cy="48.9" r="11.4"/>
<circle cx="2106.9" cy="48.9" r="11.4"/>
<circle cx="2110.9" cy="48.8" r="11.4"/>
<circle cx="2114.9" cy="48.8" r="11.4"/>
<circle cx="2118.8" cy="48.8" r="11.4"/>
</g>
<path fill="none" stroke="#f00" stroke-width="8" stroke-linejoin="round" d="M729.8 1457.8 L729.8 1452.6 L730.0 1437.5 L730.1 1422.8 L730.2 1408.4 L730.3 1394.2 L730.4 1380.4 L730.5 1366.9 L730.6 1353.6 L730.7 1340.6 L730.8 1327.8 L730.9 1315.3 L731.0 1303.1 L731.1 1291.1 L731.2 1279.3 L731.3 1267.7 L731.4 1256.4 L731.5 1245.2 L731.6 1234.3 L731.7 1223.5 L731.8 1213.0 L731.9 1202.6 L732.0 1192.5 L732.1 1182.5 L732.2 1172.7 L732.3 1163.0 L732.4 1153.5 L732.5 1144.2 L732.6 1135.0 L732.7 1126.0 L732.8 1117.1 L732.9 1108.4 L733.0 1099.8 L733.1 1091.4 L733.2 1083.1 L733.3 1074.9 L733.4 1066.9 L733.5 1059.0 L733.6 1051.2 L733.7 1043.5 L733.9 1035.9 L734.0 1028.5 L734.1 1021.2 L734.2 1013.9 L734.3 1006.8 L734.4 999.8 L734.5 992.9 L734.6 986.1 L734.7 979.4 L734.8 972.8 L734.9 966.2 L735.0 959.8 L735.1 953.5 L735.2 947.2 L735.3 941.1 L735.4 935.0 L735.5 929.0 L735.6 923.1 L735.7 917.2 L735.8 911.5 L735.9 905.8 L736.1 897.7 L736.1 894.2 L736.2 890.6 L736.3 887.0 L736.3 883.4 L736.4 879.8 L736.5 876.2 L736.5 872.6 L736.6 868.9 L736.7 865.3 L736.7 861.7 L736.8 858.0 L736.9 854.4 L737.0 850.7 L737.1 847.0 L737.1 843.4 L737.2 839.7 L737.3 836.0 L737.4 832.3 L737.4 828.6 L737.5 824.9 L737.6 821.2 L737.7 817.5 L737.8 813.8 L737.9 810.1 L737.9 806.3 L738.0 802.6 L738.1 798.9 L738.2 795.1 L738.3 791.4 L738.4 787.7 L738.5 783.9 L738.6 780.2 L738.7 776.4 L738.8 772.7 L738.9 768.9 L739.0 765.2 L739.1 761.4 L739.2 757.7 L739.3 753.9 L739.4 750.1 L739.5 746.4 L739.6 742.6 L739.7 738.9 L739.8 735.1 L739.9 731.3 L740.0 727.6 L740.1 723.8 L740.2 720.1 L740.3 716.3 L740.4 712.6 L740.6 708.8 L740.7 705.1 L740.8 701.3 L740.9 697.6 L741.0 693.8 L741.2 690.1 L741.3 686.4 L741.4 682.6 L741.5 678.9 L741.6 675.2 L741.8 671.5 L741.9 667.7 L742.0 664.0 L742.2 660.3 L742.3 656.6 L742.4 652.9 L742.6 649.2 L742.7 645.5 L742.9 641.8 L743.0 638.2 L743.1 634.5 L743.3 630.8 L743.4 627.2 L743.6 623.5 L743.7 619.9 L743.9 616.2 L744.0 612.6 L744.2 609.0 L744.3 605.4 L744.5 601.8 L744.7 598.2 L744.8 594.6 L745.0 591.0 L745.1 587.4 L745.3 583.9 L745.5 580.3 L745.6 576.8 L745.8 573.2 L746.0 569.7 L746.2 566.2 L746.3 562.7 L746.5 559.2 L746.7 555.7 L746.9 552.2 L747.1 548.7 L747.3 545.3 L747.4 541.8 L747.6 538.4 L747.8 534.9 L748.0 531.5 L748.2 528.1 L748.4 524.7 L748.6 521.4 L748.8 518.0 L749.0 514.6 L749.2 511.3 L749.5 507.9 L749.7 504.6 L749.9 501.3 L750.1 498.0 L750.3 494.7 L750.5 491.5 L750.8 488.2 L751.0 485.0 L751.2 481.7 L751.5 478.5 L751.7 475.3 L751.9 472.1 L752.2 468.9 L752.4 465.8 L752.7 462.6 L752.9 459.5 L753.2 456.4 L753.4 453.3 L753.7 450.2 L753.9 447.1 L754.2 444.0 L754.5 441.0 L754.7 437.9 L755.0 434.9 L755.3 431.9 L755.6 428.9 L755.8 425.9 L756.1 423.0 L756.4 420.0 L756.7 417.1 L757.0 414.2 L757.3 411.3 L757.6 408.4 L757.9 405.5 L758.2 402.6 L758.5 399.8 L758.8 397.0 L759.1 394.1 L759.5 391.3 L759.8 388.6 L760.1 385.8 L760.4 383.0 L760.8 380.3 L761.1 377.6 L761.5 374.9 L761.8 372.2 L762.1 369.5 L762.5 366.9 L762.9 364.2 L763.2 361.6 L763.6 359.0 L764.0 356.4 L764.3 353.8 L764.7 351.2 L765.1 348.7 L765.5 346.2 L765.9 343.6 L766.2 341.1 L766.6 338.7 L767.0 336.2 L767.5 333.7 L767.9 331.3 L768.3 328.9 L768.7 326.5 L769.1 324.1 L769.6 321.7 L770.0 319.3 L770.4 317.0 L770.9 314.6 L771.3 312.3 L771.8 310.0 L772.2 307.8 L772.7 305.5 L773.2 303.2 L773.6 301.0 L774.1 298.8 L774.6 296.6 L775.1 294.4 L775.6 292.2 L776.1 290.0 L776.6 287.9 L777.1 285.8 L777.6 283.6 L778.1 281.5 L778.7 279.5 L779.2 277.4 L779.7 275.3 L780.3 273.3 L780.8 271.3 L781.4 269.3 L782.0 267.3 L782.5 265.3 L783.1 263.3 L783.7 261.4 L784.3 259.4 L784.9 257.5 L785.5 255.6 L786.1 253.7 L786.7 251.8 L787.3 250.0 L788.0 248.1 L788.6 246.3 L789.2 244.5 L789.9 242.6 L790.5 240.9 L791.2 239.1 L791.9 237.3 L792.6 235.6 L793.2 233.8 L793.9 232.1 L794.6 230.4 L795.3 228.7 L796.1 227.0 L796.8 225.3 L797.5 223.7 L798.3 222.0 L799.0 220.4 L799.8 218.8 L800.5 217.2 L801.3 215.6 L802.1 214.0 L802.9 212.4 L803.7 210.9 L804.5 209.3 L805.3 207.8 L806.1 206.3 L807.0 204.8 L807.8 203.3 L808.7 201.8 L809.5 200.4 L810.4 198.9 L811.3 197.5 L812.2 196.0 L813.1 194.6 L814.0 193.2 L814.9 191.8 L815.8 190.4 L816.8 189.1 L817.7 187.7 L818.7 186.4 L819.7 185.0 L820.7 183.7 L821.7 182.4 L822.7 181.1 L823.7 179.8 L824.7 178.5 L825.7 177.3 L826.8 176.0 L827.9 174.8 L828.9 173.5 L830.0 172.3 L831.1 171.1 L832.2 169.9 L833.3 168.7 L834.5 167.5 L835.6 166.3 L836.8 165.2 L838.0 164.0 L839.1 162.9 L840.3 161.8 L841.5 160.6 L842.8 159.5 L844.0 158.4 L845.3 157.3 L846.5 156.3 L847.8 155.2 L849.1 154.1 L850.4 153.1 L851.7 152.0 L853.1 151.0 L854.4 150.0 L855.8 149.0 L857.2 147.9 L858.6 147.0 L860.0 146.0 L861.4 145.0 L862.8 144.0 L864.3 143.1 L865.8 142.1 L867.2 141.2 L868.8 140.2 L870.3 139.3 L871.8 138.4 L873.4 137.5 L874.9 136.6 L876.5 135.7 L878.1 134.8 L879.8 133.9 L881.4 133.1 L883.1 132.2 L884.8 131.3 L886.5 130.5 L888.2 129.7 L889.9 128.8 L891.7 128.0 L893.4 127.2 L895.2 126.4 L897.0 125.6 L898.9 124.8 L900.7 124.0 L902.6 123.3 L904.5 122.5 L906.4 121.7 L908.3 121.0 L910.3 120.2 L912.3 119.5 L914.3 118.7 L916.3 118.0 L918.3 117.3 L920.4 116.6 L922.5 115.9 L924.6 115.2 L926.7 114.5 L928.9 113.8 L931.1 113.1 L933.3 112.5 L935.5 111.8 L937.8 111.1 L940.1 110.5 L942.4 109.8 L944.7 109.2 L947.1 108.6 L949.4 107.9 L951.8 107.3 L954.3 106.7 L956.7 106.1 L959.2 105.5 L961.7 104.9 L964.3 104.3 L966.9 103.7 L969.5 103.1 L972.1 102.5 L974.7 102.0 L977.4 101.4 L980.1 100.8 L982.9 100.3 L985.7 99.7 L988.5 99.2 L991.3 98.7 L994.2 98.1 L997.1 97.6 L1000.0 97.1 L1003.0 96.6 L1006.0 96.1 L1009.0 95.5 L1012.0 95.0 L1015.1 94.5 L1018.3 94.1 L1021.4 93.6 L1024.6 93.1 L1027.9 92.6 L1031.1 92.1 L1034.4 91.7 L1037.8 91.2 L1041.1 90.7 L1044.6 90.3 L1048.0 89.8 L1051.5 89.4 L1055.0 89.0 L1058.6 88.5 L1062.2 88.1 L1065.9 87.7 L1069.5 87.2 L1073.3 86.8 L1077.0 86.4 L1080.8 86.0 L1084.7 85.6 L1088.6 85.2 L1092.5 84.8 L1096.5 84.4 L1100.5 84.0 L1104.6 83.6 L1108.7 83.2 L1112.8 82.8 L1117.0 82.5 L1121.3 82.1 L1125.6 81.7 L1129.9 81.4 L1134.3 81.0 L1138.7 80.6 L1143.2 80.3 L1147.8 79.9 L1152.4 79.6 L1157.0 79.3 L1161.7 78.9 L1166.4 78.6 L1171.2 78.3 L1176.0 77.9 L1180.9 77.6 L1185.9 77.3 L1190.9 77.0 L1195.9 76.6 L1201.1 76.3 L1206.2 76.0 L1211.4 75.7 L1216.7 75.4 L1222.1 75.1 L1227.5 74.8 L1232.9 74.5 L1238.4 74.2 L1244.0 74.0 L1249.7 73.7 L1255.4 73.4 L1261.1 73.1 L1267.0 72.8 L1272.8 72.6 L1278.8 72.3 L1284.8 72.0 L1290.9 71.8 L1297.1 71.5 L1303.3 71.2 L1309.6 71.0 L1315.9 70.7 L1322.4 70.5 L1328.9 70.2 L1335.4 70.0 L1342.1 69.7 L1348.8 69.5 L1355.6 69.3 L1362.5 69.0 L1369.4 68.8 L1376.4 68.6 L1383.5 68.3 L1390.7 68.1 L1397.9 67.9 L1405.3 67.7 L1412.7 67.4 L1420.2 67.2 L1427.7 67.0 L1435.4 66.8 L1443.1 66.6 L1450.9 66.4 L1458.9 66.2 L1466.9 66.0 L1474.9 65.8 L1483.1 65.6 L1491.4 65.4 L1499.7 65.2 L1508.2 65.0 L1516.7 64.8 L1525.3 64.6 L1534.1 64.4 L1542.9 64.2 L1551.8 64.1 L1560.8 63.9 L1570.0 63.7 L1579.2 63.5 L1588.5 63.4 L1597.9 63.2 L1607.4 63.0 L1617.1 62.8 L1626.8 62.7 L1636.6 62.5 L1646.6 62.3 L1656.6 62.2 L1666.8 62.0 L1677.1 61.9 L1687.5 61.7 L1698.0 61.5 L1708.6 61.4 L1719.3 61.2 L1730.2 61.1 L1741.2 60.9 L1752.3 60.8 L1763.5 60.6 L1774.8 60.5 L1786.3 60.4 L1797.9 60.2 L1809.6 60.1 L1821.4 59.9 L1833.4 59.8 L1845.5 59.7 L1857.8 59.5 L1870.1 59.4 L1882.6 59.3 L1895.3 59.1 L1908.1 59.0 L1921.0 58.9 L1934.1 58.8 L1947.3 58.6 L1960.6 58.5 L1974.1 58.4 L1987.8 58.3 L2001.6 58.2 L2015.6 58.0 L2029.7 57.9 L2043.9 57.8 L2058.3 57.7 L2072.9 57.6 L2087.6 57.5 L2102.5 57.4 L2117.6 57.2 L2132.8 57.1"/>
</g>
<polygon fill="#f00" points="735.2,1443.0 788.5,1389.0 782.3,1412.8 882.5,1363.0 887.7,1373.8 787.8,1423.9 811.7,1433.5"/>
<g id="main-labels" class="tl">
<text x="344.3" y="1557.5" text-anchor="middle">12</text>
<text x="639.6" y="1557.5" text-anchor="middle">13</text>
<text x="935.0" y="1557.5" text-anchor="middle">14</text>
<text x="1230.3" y="1557.5" text-anchor="middle">15</text>
<text x="1525.6" y="1557.5" text-anchor="middle">16</text>
<text x="1821.0" y="1557.5" text-anchor="middle">17</text>
<text x="2116.3" y="1557.5" text-anchor="middle">18</text>
<text x="315" y="1459.8" text-anchor="end">0</text>
<text x="315" y="1243.5" text-anchor="end">20</text>
<text x="315" y="1027.3" text-anchor="end">40</text>
<text x="315" y="811.0" text-anchor="end">60</text>
<text x="315" y="594.8" text-anchor="end">80</text>
<text x="315" y="378.6" text-anchor="end">100</text>
<text x="315" y="162.3" text-anchor="end">120</text>
</g>
<text class="bi" font-size="95.57" transform="translate(1148.50,1680.00) scale(1.0830,1)">T</text>
<text class="ax" x="1251" y="1680">(K)</text>
<text class="bi" font-size="95.73" transform="translate(97.10,838.64) rotate(-90) scale(1.0878,1)">R</text>
<text class="sqt" font-size="66.28" transform="translate(122.40,768.54) rotate(-90) scale(0.8308,1)" stroke="#000" stroke-width="1.3">□</text>
<text class="ax" transform="translate(97,692) rotate(-90)">(Ω)</text>
<text class="an" font-size="76.36" transform="translate(877.64,1326.80) scale(0.9660,1)">T</text>
<text class="an" font-size="50.96" transform="translate(921.08,1348.69) scale(0.9945,1)">co</text>
<g id="inset-axes">
<rect x="1072" y="172" width="963" height="962" fill="#fff"/>
<path fill="#000" fill-rule="evenodd" d="M1072 172H2035V1134H1072Z M1080 180V1126H2027V180Z"/>
<rect x="1120" y="180" width="8" height="11" fill="#000"/>
<rect x="1120" y="1115" width="8" height="11" fill="#000"/>
<rect x="1215" y="180" width="8" height="11" fill="#000"/>
<rect x="1215" y="1115" width="8" height="11" fill="#000"/>
<rect x="1310" y="180" width="9" height="26" fill="#000"/>
<rect x="1310" y="1100" width="9" height="26" fill="#000"/>
<rect x="1406" y="180" width="8" height="11" fill="#000"/>
<rect x="1406" y="1115" width="8" height="11" fill="#000"/>
<rect x="1502" y="180" width="8" height="11" fill="#000"/>
<rect x="1502" y="1115" width="8" height="11" fill="#000"/>
<rect x="1597" y="180" width="8" height="11" fill="#000"/>
<rect x="1597" y="1115" width="8" height="11" fill="#000"/>
<rect x="1692" y="180" width="8" height="11" fill="#000"/>
<rect x="1692" y="1115" width="8" height="11" fill="#000"/>
<rect x="1787" y="180" width="9" height="26" fill="#000"/>
<rect x="1787" y="1100" width="9" height="26" fill="#000"/>
<rect x="1883" y="180" width="8" height="11" fill="#000"/>
<rect x="1883" y="1115" width="8" height="11" fill="#000"/>
<rect x="1979" y="180" width="8" height="11" fill="#000"/>
<rect x="1979" y="1115" width="8" height="11" fill="#000"/>
<rect x="1080" y="1105" width="26" height="8" fill="#000"/>
<rect x="2001" y="1105" width="26" height="8" fill="#000"/>
<rect x="1080" y="1033" width="11" height="8" fill="#000"/>
<rect x="2016" y="1033" width="11" height="8" fill="#000"/>
<rect x="1080" y="961" width="11" height="8" fill="#000"/>
<rect x="2016" y="961" width="11" height="8" fill="#000"/>
<rect x="1080" y="889" width="11" height="8" fill="#000"/>
<rect x="2016" y="889" width="11" height="8" fill="#000"/>
<rect x="1080" y="818" width="26" height="8" fill="#000"/>
<rect x="2001" y="818" width="26" height="8" fill="#000"/>
<rect x="1080" y="746" width="11" height="8" fill="#000"/>
<rect x="2016" y="746" width="11" height="8" fill="#000"/>
<rect x="1080" y="674" width="11" height="8" fill="#000"/>
<rect x="2016" y="674" width="11" height="8" fill="#000"/>
<rect x="1080" y="603" width="11" height="8" fill="#000"/>
<rect x="2016" y="603" width="11" height="8" fill="#000"/>
<rect x="1080" y="531" width="26" height="8" fill="#000"/>
<rect x="2001" y="531" width="26" height="8" fill="#000"/>
<rect x="1080" y="459" width="11" height="8" fill="#000"/>
<rect x="2016" y="459" width="11" height="8" fill="#000"/>
<rect x="1080" y="387" width="11" height="8" fill="#000"/>
<rect x="2016" y="387" width="11" height="8" fill="#000"/>
<rect x="1080" y="316" width="11" height="8" fill="#000"/>
<rect x="2016" y="316" width="11" height="8" fill="#000"/>
<rect x="1080" y="244" width="26" height="8" fill="#000"/>
<rect x="2001" y="244" width="26" height="8" fill="#000"/>
</g>
<clipPath id="ci"><rect x="1076" y="176" width="956" height="954"/></clipPath>
<g id="inset-data" clip-path="url(#ci)">
<g fill="#fff" stroke="#000" stroke-width="2">
<circle cx="1054.0" cy="1106.5" r="10.6"/>
<circle cx="1058.1" cy="1106.5" r="10.6"/>
<circle cx="1062.2" cy="1106.5" r="10.6"/>
<circle cx="1066.2" cy="1106.5" r="10.6"/>
<circle cx="1070.3" cy="1106.5" r="10.6"/>
<circle cx="1074.3" cy="1106.5" r="10.6"/>
<circle cx="1078.4" cy="1106.5" r="10.6"/>
<circle cx="1082.4" cy="1106.5" r="10.6"/>
<circle cx="1086.5" cy="1106.5" r="10.6"/>
<circle cx="1090.6" cy="1106.5" r="10.6"/>
<circle cx="1094.7" cy="1106.5" r="10.6"/>
<circle cx="1098.7" cy="1106.5" r="10.6"/>
<circle cx="1102.8" cy="1106.5" r="10.6"/>
<circle cx="1106.9" cy="1106.5" r="10.6"/>
<circle cx="1111.0" cy="1106.5" r="10.6"/>
<circle cx="1115.1" cy="1106.5" r="10.6"/>
<circle cx="1119.2" cy="1106.5" r="10.6"/>
<circle cx="1123.3" cy="1106.5" r="10.6"/>
<circle cx="1127.4" cy="1106.5" r="10.6"/>
<circle cx="1131.5" cy="1106.5" r="10.6"/>
<circle cx="1135.6" cy="1106.5" r="10.6"/>
<circle cx="1139.7" cy="1106.5" r="10.6"/>
<circle cx="1143.8" cy="1106.5" r="10.6"/>
<circle cx="1147.9" cy="1106.5" r="10.6"/>
<circle cx="1152.1" cy="1106.5" r="10.6"/>
<circle cx="1156.2" cy="1106.5" r="10.6"/>
<circle cx="1160.3" cy="1106.5" r="10.6"/>
<circle cx="1164.5" cy="1106.5" r="10.6"/>
<circle cx="1168.6" cy="1106.5" r="10.6"/>
<circle cx="1172.7" cy="1106.5" r="10.6"/>
<circle cx="1176.9" cy="1106.5" r="10.6"/>
<circle cx="1181.0" cy="1106.5" r="10.6"/>
<circle cx="1185.2" cy="1106.5" r="10.6"/>
<circle cx="1189.4" cy="1106.5" r="10.6"/>
<circle cx="1193.5" cy="1106.5" r="10.6"/>
<circle cx="1197.7" cy="1106.5" r="10.6"/>
<circle cx="1201.8" cy="1106.5" r="10.6"/>
<circle cx="1206.0" cy="1106.5" r="10.6"/>
<circle cx="1210.2" cy="1106.5" r="10.6"/>
<circle cx="1214.4" cy="1106.5" r="10.6"/>
<circle cx="1218.6" cy="1106.5" r="10.6"/>
<circle cx="1222.8" cy="1106.5" r="10.6"/>
<circle cx="1226.9" cy="1106.5" r="10.6"/>
<circle cx="1231.1" cy="1106.5" r="10.6"/>
<circle cx="1235.3" cy="1106.5" r="10.6"/>
<circle cx="1239.5" cy="1106.5" r="10.6"/>
<circle cx="1243.8" cy="1106.5" r="10.6"/>
<circle cx="1248.0" cy="1106.5" r="10.6"/>
<circle cx="1252.2" cy="1106.5" r="10.6"/>
<circle cx="1256.4" cy="1106.5" r="10.6"/>
<circle cx="1260.6" cy="1106.5" r="10.6"/>
<circle cx="1264.8" cy="1106.5" r="10.6"/>
<circle cx="1269.1" cy="1106.5" r="10.6"/>
<circle cx="1273.3" cy="1105.7" r="10.6"/>
<circle cx="1277.5" cy="1105.7" r="10.6"/>
<circle cx="1281.8" cy="1105.7" r="10.6"/>
<circle cx="1286.0" cy="1105.7" r="10.6"/>
<circle cx="1290.3" cy="1105.7" r="10.6"/>
<circle cx="1294.5" cy="1105.7" r="10.6"/>
<circle cx="1298.8" cy="1105.7" r="10.6"/>
<circle cx="1303.0" cy="1106.5" r="10.6"/>
<circle cx="1307.3" cy="1106.5" r="10.6"/>
<circle cx="1311.6" cy="1107.4" r="10.6"/>
<circle cx="1315.9" cy="1107.4" r="10.6"/>
<circle cx="1320.1" cy="1107.4" r="10.6"/>
<circle cx="1324.4" cy="1107.4" r="10.6"/>
<circle cx="1328.7" cy="1107.4" r="10.6"/>
<circle cx="1333.0" cy="1107.4" r="10.6"/>
<circle cx="1337.3" cy="1107.4" r="10.6"/>
<circle cx="1341.6" cy="1107.4" r="10.6"/>
<circle cx="1345.9" cy="1107.4" r="10.6"/>
<circle cx="1350.2" cy="1107.4" r="10.6"/>
<circle cx="1354.5" cy="1107.4" r="10.6"/>
<circle cx="1358.8" cy="1107.4" r="10.6"/>
<circle cx="1363.1" cy="1105.0" r="10.6"/>
<circle cx="1367.4" cy="1102.9" r="10.6"/>
<circle cx="1371.7" cy="1099.0" r="10.6"/>
<circle cx="1375.9" cy="1092.7" r="10.6"/>
<circle cx="1380.2" cy="1084.5" r="10.6"/>
<circle cx="1384.4" cy="1073.4" r="10.6"/>
<circle cx="1388.6" cy="1055.5" r="10.6"/>
<circle cx="1393.4" cy="1032.5" r="10.6"/>
<circle cx="1397.3" cy="1001.7" r="10.6"/>
<circle cx="1401.4" cy="962.6" r="10.6"/>
<circle cx="1406.6" cy="919.3" r="10.6"/>
<circle cx="1410.7" cy="871.6" r="10.6"/>
<circle cx="1414.3" cy="822.0" r="10.6"/>
<circle cx="1419.4" cy="770.8" r="10.6"/>
<circle cx="1423.2" cy="721.1" r="10.6"/>
<circle cx="1428.4" cy="677.5" r="10.6"/>
<circle cx="1432.4" cy="638.1" r="10.6"/>
<circle cx="1436.4" cy="601.2" r="10.6"/>
<circle cx="1441.3" cy="566.4" r="10.6"/>
<circle cx="1445.5" cy="537.3" r="10.6"/>
<circle cx="1450.3" cy="510.8" r="10.6"/>
<circle cx="1454.6" cy="487.8" r="10.6"/>
<circle cx="1458.5" cy="467.0" r="10.6"/>
<circle cx="1463.7" cy="447.9" r="10.6"/>
<circle cx="1467.8" cy="431.1" r="10.6"/>
<circle cx="1473.1" cy="416.6" r="10.6"/>
<circle cx="1477.2" cy="403.5" r="10.6"/>
<circle cx="1481.5" cy="391.6" r="10.6"/>
<circle cx="1486.2" cy="380.7" r="10.6"/>
<circle cx="1490.3" cy="371.0" r="10.6"/>
<circle cx="1494.7" cy="363.3" r="10.6"/>
<circle cx="1499.2" cy="356.0" r="10.6"/>
<circle cx="1503.6" cy="349.2" r="10.6"/>
<circle cx="1508.0" cy="342.6" r="10.6"/>
<circle cx="1512.5" cy="336.5" r="10.6"/>
<circle cx="1516.9" cy="331.2" r="10.6"/>
<circle cx="1521.4" cy="326.4" r="10.6"/>
<circle cx="1525.8" cy="321.8" r="10.6"/>
<circle cx="1530.3" cy="317.5" r="10.6"/>
<circle cx="1534.8" cy="313.4" r="10.6"/>
<circle cx="1539.2" cy="309.6" r="10.6"/>
<circle cx="1543.7" cy="306.0" r="10.6"/>
<circle cx="1548.2" cy="302.5" r="10.6"/>
<circle cx="1552.6" cy="299.3" r="10.6"/>
<circle cx="1557.1" cy="296.5" r="10.6"/>
<circle cx="1561.6" cy="293.8" r="10.6"/>
<circle cx="1566.1" cy="291.2" r="10.6"/>
<circle cx="1570.6" cy="288.9" r="10.6"/>
<circle cx="1575.1" cy="286.9" r="10.6"/>
<circle cx="1579.6" cy="284.8" r="10.6"/>
<circle cx="1584.1" cy="282.6" r="10.6"/>
<circle cx="1588.6" cy="280.4" r="10.6"/>
<circle cx="1593.1" cy="278.3" r="10.6"/>
<circle cx="1597.7" cy="276.4" r="10.6"/>
<circle cx="1602.2" cy="274.7" r="10.6"/>
<circle cx="1606.7" cy="273.0" r="10.6"/>
<circle cx="1611.2" cy="271.5" r="10.6"/>
<circle cx="1615.8" cy="270.0" r="10.6"/>
<circle cx="1620.3" cy="268.6" r="10.6"/>
<circle cx="1624.9" cy="267.3" r="10.6"/>
<circle cx="1629.4" cy="266.0" r="10.6"/>
<circle cx="1634.0" cy="264.7" r="10.6"/>
<circle cx="1638.5" cy="263.5" r="10.6"/>
<circle cx="1643.1" cy="262.2" r="10.6"/>
<circle cx="1647.6" cy="261.0" r="10.6"/>
<circle cx="1652.2" cy="259.8" r="10.6"/>
<circle cx="1656.8" cy="258.6" r="10.6"/>
<circle cx="1661.4" cy="257.4" r="10.6"/>
<circle cx="1665.9" cy="256.3" r="10.6"/>
<circle cx="1670.5" cy="255.2" r="10.6"/>
<circle cx="1675.1" cy="254.2" r="10.6"/>
<circle cx="1679.7" cy="253.2" r="10.6"/>
<circle cx="1684.3" cy="252.2" r="10.6"/>
<circle cx="1688.9" cy="251.3" r="10.6"/>
<circle cx="1693.5" cy="250.4" r="10.6"/>
<circle cx="1698.1" cy="249.5" r="10.6"/>
<circle cx="1702.7" cy="248.7" r="10.6"/>
<circle cx="1707.4" cy="247.8" r="10.6"/>
<circle cx="1712.0" cy="247.0" r="10.6"/>
<circle cx="1716.6" cy="246.2" r="10.6"/>
<circle cx="1721.2" cy="245.4" r="10.6"/>
<circle cx="1725.9" cy="244.7" r="10.6"/>
<circle cx="1730.5" cy="244.0" r="10.6"/>
<circle cx="1735.2" cy="243.3" r="10.6"/>
<circle cx="1739.8" cy="242.6" r="10.6"/>
<circle cx="1744.5" cy="242.0" r="10.6"/>
<circle cx="1749.1" cy="241.4" r="10.6"/>
<circle cx="1753.8" cy="240.8" r="10.6"/>
<circle cx="1758.4" cy="240.3" r="10.6"/>
<circle cx="1763.1" cy="239.7" r="10.6"/>
<circle cx="1767.8" cy="239.1" r="10.6"/>
<circle cx="1772.5" cy="238.4" r="10.6"/>
<circle cx="1777.1" cy="237.8" r="10.6"/>
<circle cx="1781.8" cy="237.1" r="10.6"/>
<circle cx="1786.5" cy="236.5" r="10.6"/>
<circle cx="1791.2" cy="235.9" r="10.6"/>
<circle cx="1795.9" cy="235.2" r="10.6"/>
<circle cx="1800.6" cy="234.7" r="10.6"/>
<circle cx="1805.3" cy="234.1" r="10.6"/>
<circle cx="1810.0" cy="233.6" r="10.6"/>
<circle cx="1814.7" cy="233.1" r="10.6"/>
<circle cx="1819.5" cy="232.6" r="10.6"/>
<circle cx="1824.2" cy="232.1" r="10.6"/>
<circle cx="1828.9" cy="231.6" r="10.6"/>
<circle cx="1833.6" cy="231.1" r="10.6"/>
<circle cx="1838.4" cy="230.6" r="10.6"/>
<circle cx="1843.1" cy="230.2" r="10.6"/>
<circle cx="1847.9" cy="229.7" r="10.6"/>
<circle cx="1852.6" cy="229.3" r="10.6"/>
<circle cx="1857.4" cy="228.8" r="10.6"/>
<circle cx="1862.1" cy="228.4" r="10.6"/>
<circle cx="1866.9" cy="227.9" r="10.6"/>
<circle cx="1871.6" cy="227.5" r="10.6"/>
<circle cx="1876.4" cy="227.0" r="10.6"/>
<circle cx="1881.2" cy="226.6" r="10.6"/>
<circle cx="1886.0" cy="226.2" r="10.6"/>
<circle cx="1890.8" cy="225.8" r="10.6"/>
<circle cx="1895.5" cy="225.4" r="10.6"/>
<circle cx="1900.3" cy="225.0" r="10.6"/>
<circle cx="1905.1" cy="224.6" r="10.6"/>
<circle cx="1909.9" cy="224.3" r="10.6"/>
<circle cx="1914.7" cy="223.9" r="10.6"/>
<circle cx="1919.5" cy="223.5" r="10.6"/>
<circle cx="1924.4" cy="223.2" r="10.6"/>
<circle cx="1929.2" cy="222.9" r="10.6"/>
<circle cx="1934.0" cy="222.5" r="10.6"/>
<circle cx="1938.8" cy="222.2" r="10.6"/>
<circle cx="1943.7" cy="221.9" r="10.6"/>
<circle cx="1948.5" cy="221.6" r="10.6"/>
<circle cx="1953.3" cy="221.3" r="10.6"/>
<circle cx="1958.2" cy="221.0" r="10.6"/>
<circle cx="1963.0" cy="220.7" r="10.6"/>
<circle cx="1967.9" cy="220.4" r="10.6"/>
<circle cx="1972.7" cy="220.2" r="10.6"/>
<circle cx="1977.6" cy="219.9" r="10.6"/>
<circle cx="1982.5" cy="219.6" r="10.6"/>
<circle cx="1987.3" cy="219.4" r="10.6"/>
<circle cx="1992.2" cy="219.1" r="10.6"/>
<circle cx="1997.1" cy="218.9" r="10.6"/>
<circle cx="2002.0" cy="218.7" r="10.6"/>
<circle cx="2006.9" cy="218.4" r="10.6"/>
<circle cx="2011.7" cy="218.2" r="10.6"/>
<circle cx="2016.6" cy="218.0" r="10.6"/>
<circle cx="2021.5" cy="217.8" r="10.6"/>
<circle cx="2026.4" cy="217.6" r="10.6"/>
<circle cx="2031.4" cy="217.4" r="10.6"/>
<circle cx="2036.3" cy="217.2" r="10.6"/>
<circle cx="2041.2" cy="217.0" r="10.6"/>
<circle cx="2046.1" cy="216.8" r="10.6"/>
<circle cx="2051.0" cy="216.5" r="10.6"/>
<circle cx="2056.0" cy="216.3" r="10.6"/>
</g>
<path fill="none" stroke="#00f" stroke-width="8" stroke-linecap="round" stroke-linejoin="round" d="M1478.2 223.0 L1477.3 234.2 L1476.4 245.4 L1475.4 256.6 L1474.5 267.8 L1473.5 279.1 L1472.5 290.3 L1471.5 301.5 L1470.4 312.7 L1469.3 323.9 L1468.2 335.1 L1467.1 346.3 L1466.0 357.5 L1464.8 368.7 L1463.7 379.9 L1462.5 391.2 L1461.3 402.4 L1460.1 413.6 L1458.9 424.8 L1457.7 436.0 L1456.4 447.2 L1455.2 458.4 L1453.9 469.6 L1452.7 480.8 L1451.4 492.0 L1450.2 503.3 L1448.9 514.5 L1447.7 525.7 L1446.4 536.9 L1445.1 548.1 L1443.9 559.3 L1442.6 570.5 L1441.4 581.7 L1440.2 592.9 L1438.9 604.1 L1437.7 615.4 L1436.5 626.6 L1435.3 637.8 L1434.0 649.0 L1432.8 660.2 L1431.6 671.4 L1430.4 682.6 L1429.2 693.8 L1427.9 705.0 L1426.7 716.2 L1425.5 727.5 L1424.3 738.7 L1423.1 749.9 L1422.0 761.1 L1420.8 772.3 L1419.6 783.5 L1418.5 794.7 L1417.4 805.9 L1416.2 817.1 L1415.1 828.3 L1414.0 839.6 L1412.9 850.8 L1411.7 862.0 L1410.6 873.2 L1409.4 884.4 L1408.2 895.6 L1407.1 906.8 L1405.9 918.0 L1404.7 929.2 L1403.4 940.4 L1402.2 951.7 L1400.9 962.9 L1399.6 974.1 L1398.2 985.3 L1396.9 996.5 L1395.5 1007.7 L1394.0 1018.9 L1392.4 1030.1 L1391.1 1041.3 L1389.9 1052.5 L1388.8 1063.8 L1387.7 1075.0 L1386.3 1086.2 L1384.4 1097.4 L1379.6 1108.6"/>
</g>
<polygon fill="#00f" points="1389.2,1109.9 1437.7,1053.3 1432.2,1074.1 1501.2,1024.9 1506.1,1031.3 1437.1,1081.7 1456.8,1083.0"/>
<g id="inset-labels" class="tli">
<text x="1313.4" y="1233.2" text-anchor="middle">13</text>
<text x="1790.6" y="1233.2" text-anchor="middle">14</text>
<text x="1044.5" y="1135.5" text-anchor="end" textLength="113.6" lengthAdjust="spacingAndGlyphs">0.0</text>
<text x="1044.5" y="848.2" text-anchor="end" textLength="113.6" lengthAdjust="spacingAndGlyphs">0.4</text>
<text x="1044.5" y="560.8" text-anchor="end" textLength="113.6" lengthAdjust="spacingAndGlyphs">0.8</text>
<text x="1044.5" y="273.5" text-anchor="end">1.2</text>
</g>
<text class="bi" font-size="91.45" transform="translate(1451.86,1341.00) scale(1.0762,1)">T</text>
<text class="axi" x="1550" y="1341">(K)</text>
<text class="rho" font-size="83.24" transform="translate(879.03,792.46) rotate(-90) scale(1.1877,1)" stroke="#000" stroke-width="1.7" stroke-linejoin="round">ρ</text>
<text class="axi" transform="translate(877,694.5) rotate(-90)">(μΩm)</text>
<text class="an" font-size="71.13" transform="translate(1505.94,998.90) scale(0.9565,1)">T</text>
<text class="an" font-size="48.00" transform="translate(1544.18,1016.90) scale(0.9796,1)">BKT</text>
</svg>
</body>
</html>
